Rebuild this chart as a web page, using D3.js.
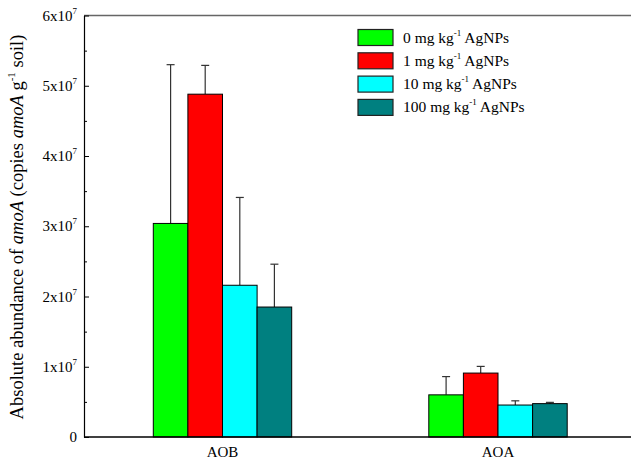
<!DOCTYPE html>
<html><head><meta charset="utf-8">
<script src="https://cdn.jsdelivr.net/npm/d3@7"></script>
<style>body{margin:0;background:#fff}svg{display:block}</style>
</head><body><svg id="c" width="631" height="463" font-family="'Times New Roman', 'Liberation Serif', 'DejaVu Serif', serif"></svg>
<script>
const categories = ["AOB", "AOA"];
const seriesNames = ["0", "1", "10", "100"];
const seriesColors = ["#00ff00", "#ff0000", "#00ffff", "#008080"];
const values_0 = [3.04e7, 0.60e7];
const values_1 = [4.88e7, 0.91e7];
const values_10 = [2.16e7, 0.455e7];
const values_100 = [1.85e7, 0.475e7];
const err_0 = [2.26e7, 0.26e7];
const err_1 = [0.41e7, 0.095e7];
const err_10 = [1.25e7, 0.06e7];
const err_100 = [0.61e7, 0.018e7];
const yTicks = [0, 1e7, 2e7, 3e7, 4e7, 5e7, 6e7];
const yMinorTicks = [0.5e7, 1.5e7, 2.5e7, 3.5e7, 4.5e7, 5.5e7];

const vals = [values_0, values_1, values_10, values_100];
const errs = [err_0, err_1, err_10, err_100];

const svg = d3.select("#c");
const L = 84, T = 15.5, B = 437, R = 631;
const y = d3.scaleLinear().domain([0, 6e7]).range([B, T]);
const x0 = d3.scaleBand().domain(categories).range([L + 0.75, 635.75]);
const groupW = 138.4;
const x1 = d3.scaleBand().domain(seriesNames).range([0, groupW]);

// top border
svg.append("line").attr("x1", L).attr("x2", R).attr("y1", T).attr("y2", T).attr("stroke", "#666").attr("stroke-width", 1.5);

// bars
categories.forEach((c, ci) => {
  const gx = x0(c) + x0.bandwidth() / 2 - groupW / 2;
  seriesNames.forEach((s, si) => {
    const v = vals[si][ci], e = errs[si][ci];
    const bx = gx + x1(s), bw = x1.bandwidth();
    const cx = bx + bw / 2;
    svg.append("line").attr("x1", cx).attr("x2", cx).attr("y1", y(v)).attr("y2", y(v + e)).attr("stroke", "#333").attr("stroke-width", 1.2);
    svg.append("line").attr("x1", cx - 4).attr("x2", cx + 4).attr("y1", y(v + e)).attr("y2", y(v + e)).attr("stroke", "#333").attr("stroke-width", 1.2);
    svg.append("rect").attr("x", bx).attr("y", y(v)).attr("width", bw).attr("height", B - y(v))
      .attr("fill", seriesColors[si]).attr("stroke", "#000").attr("stroke-width", 1);
  });
});

// axes
const yAxis = d3.axisLeft(y).tickValues(yTicks).tickSize(-5).tickFormat("").tickSizeOuter(0);
svg.append("g").attr("transform", `translate(${L},0)`).call(yAxis)
  .call(g => { g.select(".domain").attr("stroke", "#000").attr("stroke-width", 1.2); g.selectAll(".tick line").attr("stroke", "#000"); });
svg.append("g").attr("transform", `translate(${L},0)`).call(d3.axisLeft(y).tickValues(yMinorTicks).tickSize(-3).tickFormat("").tickSizeOuter(0))
  .call(g => { g.select(".domain").remove(); g.selectAll(".tick line").attr("stroke", "#000"); });
svg.append("line").attr("x1", L).attr("x2", R).attr("y1", B).attr("y2", B).attr("stroke", "#000").attr("stroke-width", 1.5);

// y tick labels
yTicks.forEach(t => {
  const tx = svg.append("text").attr("x", 77).attr("y", y(t) + 5).attr("text-anchor", "end").attr("font-size", 15);
  if (t === 0) { tx.text("0"); }
  else {
    tx.append("tspan").text((t / 1e7) + "x10");
    tx.append("tspan").attr("dy", -7).attr("font-size", 9).text("7");
  }
});

// x labels
categories.forEach(c => {
  svg.append("text").attr("x", x0(c) + x0.bandwidth() / 2).attr("y", 457).attr("text-anchor", "middle").attr("font-size", 15).text(c);
});

// y title
const yt = svg.append("text").attr("transform", `translate(23,227) rotate(-90)`).attr("text-anchor", "middle").attr("font-size", 18.5);
yt.append("tspan").text("Absolute abundance of ");
yt.append("tspan").attr("font-style", "italic").text("amoA");
yt.append("tspan").text(" (copies ");
yt.append("tspan").attr("font-style", "italic").text("amoA");
yt.append("tspan").text(" g");
yt.append("tspan").attr("dy", -8).attr("font-size", 11).text("-1");
yt.append("tspan").attr("dy", 8).text(" soil)");

// legend
seriesNames.forEach((s, i) => {
  const ly = 29.5 + i * 23.3;
  svg.append("rect").attr("x", 358).attr("y", ly).attr("width", 35).attr("height", 16).attr("fill", seriesColors[i]).attr("stroke", "#222").attr("stroke-width", 1.2);
  const t = svg.append("text").attr("x", 403).attr("y", ly + 13).attr("font-size", 15.5);
  t.append("tspan").text(s + " mg kg");
  t.append("tspan").attr("dy", -7).attr("font-size", 9).text("-1");
  t.append("tspan").attr("dy", 7).text(" AgNPs");
});
</script></body></html>
